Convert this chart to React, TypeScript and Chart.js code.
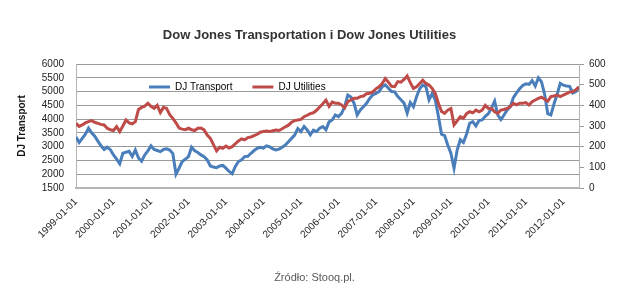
import { useEffect, useRef } from 'react';
import { Chart, registerables } from 'chart.js';

Chart.register(...registerables);

// Monthly observations, first value = 1999-01
const START_YEAR = 1999;
const yearTicks = [1999, 2000, 2001, 2002, 2003, 2004, 2005, 2006, 2007, 2008, 2009, 2010, 2011, 2012];

const transport = [
  3350, 3150, 3300, 3450, 3670, 3500, 3380, 3200, 3030, 2900, 2980, 2890,
  2700, 2550, 2380, 2760, 2800, 2830, 2650, 2880, 2590, 2470, 2700, 2850,
  3030, 2900, 2860, 2820, 2900, 2920, 2880, 2750, 2000, 2220, 2460, 2550,
  2640, 2980, 2850, 2790, 2700, 2640, 2520, 2300, 2260, 2240, 2300, 2320,
  2220, 2100, 2020, 2280, 2460, 2520, 2640, 2650, 2760, 2860, 2940, 2980,
  2950, 3030, 2990, 2920, 2880, 2910, 2980, 3060, 3180, 3300, 3420, 3660,
  3550, 3730, 3610, 3430, 3600, 3550, 3670, 3730, 3610, 3900, 3970, 4150,
  4090, 4210, 4450, 4870, 4800, 4570, 4150, 4330, 4450, 4570, 4750, 4880,
  4930, 5000, 5180, 5240, 5120, 5000, 4990, 4820, 4700, 4580, 4220, 4600,
  4450, 4810, 5100, 5240, 5180, 4700, 4930, 4700, 4100, 3450, 3400, 3050,
  2760, 2220, 2880, 3250, 3150, 3450, 3850, 3910, 3750, 3950, 3970, 4100,
  4200, 4400, 4650, 4150, 3980, 4150, 4330, 4450, 4780, 4950, 5100, 5220,
  5280, 5260, 5400, 5200, 5500, 5350, 4900, 4200, 4150, 4550, 4900, 5300,
  5230, 5200, 5190, 4950, 5000, 5150,
];

const utilities = [
  313, 298, 305, 315, 321, 326, 318, 313, 308, 305, 289, 282,
  278, 297, 273, 300, 329, 315, 310, 321, 380, 390, 396, 410,
  395, 385, 400, 365, 390, 385, 355, 337, 315, 290, 285, 282,
  289, 282, 278, 289, 290, 281, 256, 240, 210, 180, 197, 192,
  203, 193, 200, 214, 228, 238, 233, 244, 247, 253, 260, 270,
  274, 276, 273, 277, 280, 278, 287, 296, 304, 318, 326, 329,
  332, 345, 352, 360, 364, 376, 392, 408, 425, 395, 416, 410,
  410, 402, 388, 418, 426, 434, 434, 442, 445, 456, 458, 465,
  480, 490, 505, 530, 512, 492, 490, 515, 512, 525, 542, 510,
  482, 490, 506, 522, 506, 498, 482, 458, 410, 370, 361, 377,
  385, 305, 325, 345, 337, 360, 369, 364, 377, 369, 377, 400,
  385, 385, 369, 361, 377, 380, 385, 394, 410, 402, 410, 410,
  413, 402, 418, 426, 434, 440, 430, 420, 442, 445, 450, 442,
  450, 456, 465, 466, 475, 490,
];

const TITLE = 'Dow Jones Transportation i Dow Jones Utilities';
const SOURCE = 'Źródło: Stooq.pl.';
const LEFT_TITLE = 'DJ Transport';
const NAME_T = 'DJ Transport';
const NAME_U = 'DJ Utilities';

const FONT = "'Liberation Sans', Arial, sans-serif";

// Places the (horizontal) legend inside the plot area and nudges the title, as in the original
const layoutTweaks = {
  id: 'layoutTweaks',
  afterLayout(chart: any) {
    const lg = chart.legend;
    const ca = chart.chartArea;
    if (lg && ca) {
      lg.left = ca.left + 53;
      lg.right = ca.right;
      lg.top = ca.top - 2;
      lg.bottom = ca.top + 40;
    }
    const tb = chart.titleBlock;
    if (tb) {
      tb.right = tb.right - 10;
    }
  },
};

export default function App() {
  const ref = useRef<HTMLCanvasElement | null>(null);

  useEffect(() => {
    if (!ref.current) return;
    const toPoints = (arr: number[]) => arr.map((v, i) => ({ x: START_YEAR + i / 12, y: v }));
    const xMax = START_YEAR + (transport.length - 1) / 12;

    const chart = new Chart(ref.current, {
      type: 'line',
      data: {
        datasets: [
          {
            label: NAME_T,
            data: toPoints(transport),
            borderColor: '#4a7ebb',
            backgroundColor: '#4a7ebb',
            borderWidth: 3,
            pointRadius: 0,
            yAxisID: 'y',
            order: 1,
          },
          {
            label: NAME_U,
            data: toPoints(utilities),
            borderColor: '#be4b48',
            backgroundColor: '#be4b48',
            borderWidth: 3,
            pointRadius: 0,
            yAxisID: 'y2',
            order: 0,
          },
        ],
      },
      plugins: [layoutTweaks],
      options: {
        animation: false,
        responsive: false,
        layout: { padding: 0 },
        plugins: {
          tooltip: { enabled: false },
          title: {
            display: true,
            text: TITLE,
            color: '#333',
            font: { family: FONT, size: 13, weight: 'bold' },
            padding: { top: 28, bottom: 19.4 },
          },
          subtitle: {
            display: true,
            position: 'bottom',
            text: SOURCE,
            color: '#595959',
            font: { family: FONT, size: 11 },
            padding: { top: 13, bottom: 13.8 },
          },
          legend: {
            position: 'top',
            align: 'start',
            maxHeight: 1,
            labels: {
              usePointStyle: true,
              pointStyle: 'line',
              pointStyleWidth: 21,
              padding: 20,
              color: '#000',
              font: { family: FONT, size: 10 },
              sort: (a: any, b: any) => a.datasetIndex - b.datasetIndex,
            },
          },
        },
        scales: {
          x: {
            type: 'linear',
            min: START_YEAR,
            max: xMax,
            afterBuildTicks: (s: any) => {
              s.ticks = yearTicks.map((v) => ({ value: v }));
            },
            afterFit: (s: any) => {
              s.height = 70;
            },
            grid: { display: false, drawTicks: false },
            border: { display: true, color: '#b4b4b4', width: 2 },
            ticks: {
              autoSkip: false,
              minRotation: 45,
              maxRotation: 45,
              padding: 8,
              color: '#222',
              font: { family: FONT, size: 10 },
              callback: (v: any) => `${v}-01-01`,
            },
          },
          y: {
            position: 'left',
            min: 1500,
            max: 6000,
            afterFit: (s: any) => {
              s.width = 76;
            },
            grid: { color: '#9a9a9a', drawTicks: false },
            border: { display: true, color: '#b4b4b4', width: 1 },
            ticks: {
              stepSize: 500,
              autoSkip: false,
              padding: 12,
              color: '#222',
              font: { family: FONT, size: 10 },
              callback: (v: any) => String(v),
            },
            title: {
              display: true,
              text: LEFT_TITLE,
              color: '#111',
              font: { family: FONT, size: 10, weight: 'bold' },
              padding: { top: 16, bottom: 0 },
            },
          },
          y2: {
            position: 'right',
            min: 0,
            max: 600,
            afterFit: (s: any) => {
              s.width = 50;
            },
            grid: { display: true, drawOnChartArea: false, drawTicks: true, tickLength: 5, color: '#9a9a9a' },
            border: { display: true, color: '#b4b4b4', width: 1 },
            ticks: {
              stepSize: 100,
              autoSkip: false,
              padding: 5,
              color: '#222',
              font: { family: FONT, size: 10 },
              callback: (v: any) => String(v),
            },
          },
        },
      },
    } as any);

    return () => chart.destroy();
  }, []);

  return (
    <div style={{ position: 'fixed', left: 0, top: 0, width: 629, height: 298, background: '#fff' }}>
      <canvas ref={ref} width={629} height={298} style={{ display: 'block', width: 629, height: 298 }} />
    </div>
  );
}
